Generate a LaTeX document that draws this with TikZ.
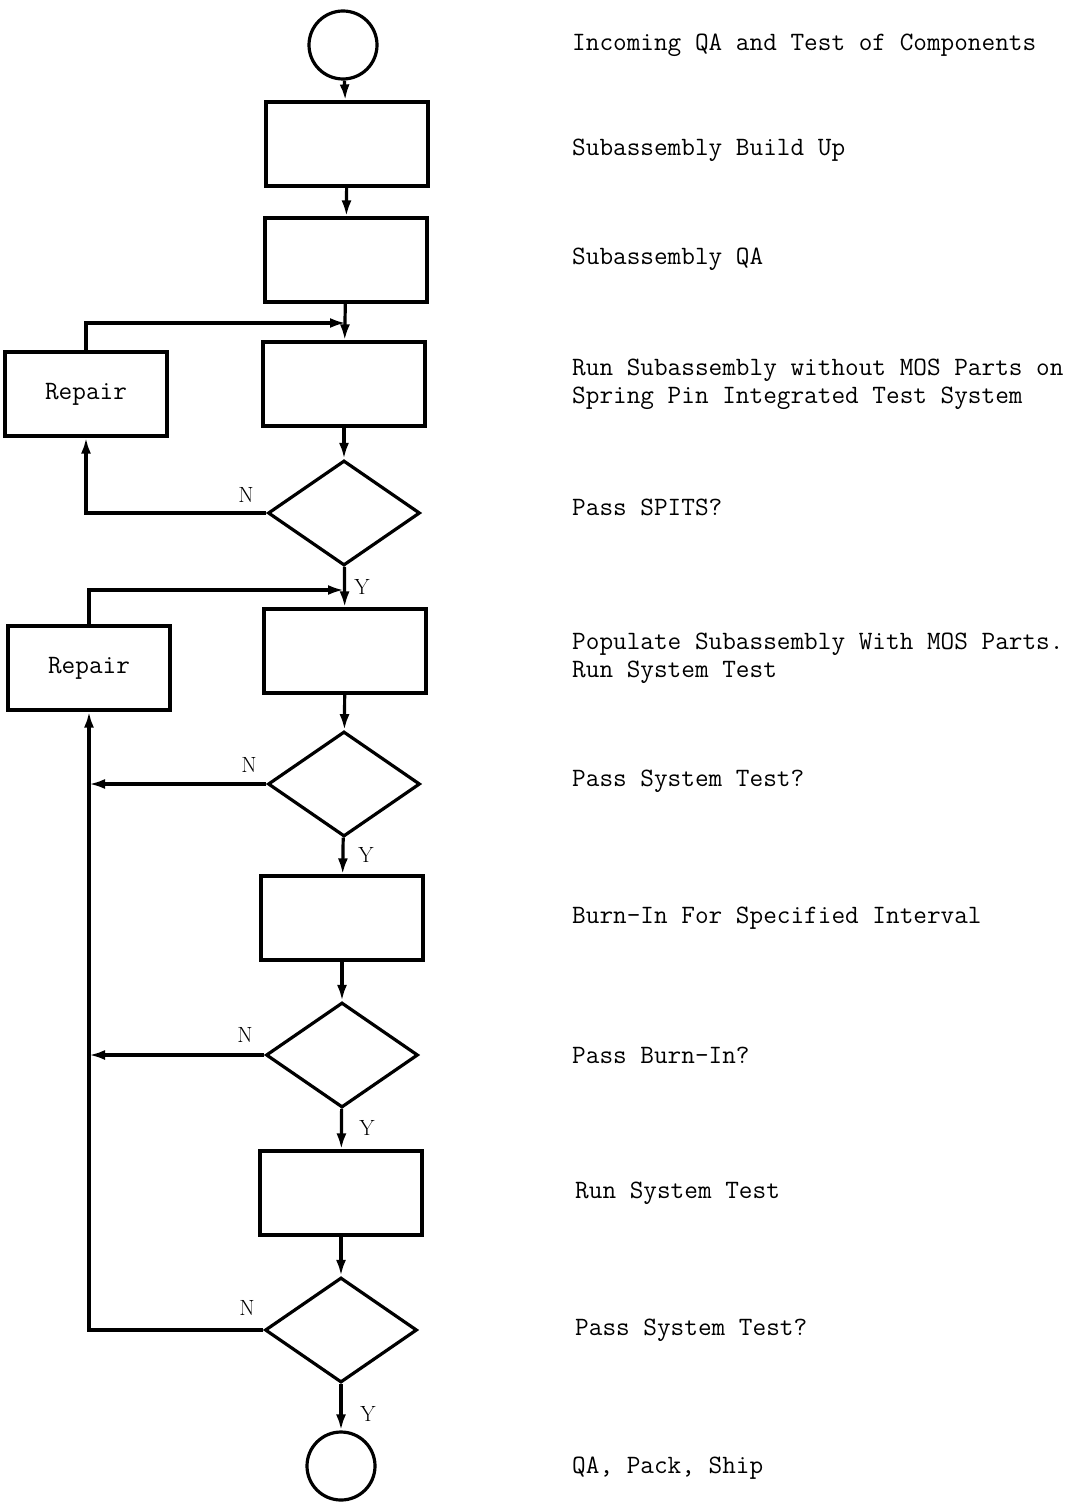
\documentclass[tikz,border=0pt]{standalone}
\usepackage{tikz}
\usetikzlibrary{positioning, shapes.geometric, arrows.meta}

\begin{document}
\begin{tikzpicture}[
        x=1pt, y=-1pt,
        box/.style={draw, rectangle, line width=3.2pt, minimum width=162pt, minimum height=84pt, inner sep=0pt, font=\fontsize{26.5}{28}\selectfont\ttfamily},
        decision/.style={draw, diamond, line width=3.2pt, minimum width=152pt, minimum height=105pt, inner sep=0pt},
        terminal/.style={draw, circle, line width=3.2pt, minimum size=68pt, inner sep=0pt},
        desc/.style={anchor=west, align=left, inner sep=0pt, font=\fontsize{26.5}{28}\selectfont\ttfamily},
        yn/.style={inner sep=0pt, font=\fontsize{22}{22}\selectfont},
        arrow/.style={-{Latex[length=16pt,width=10pt]}, line width=3.2pt}
    ]
        \useasboundingbox (0,0) rectangle (1083,1511);

        % Nodes
        \node[terminal] (start) at (343,45) {};
        \node[box] (build) at (347,144) {};
        \node[box] (subqa) at (346,260) {};
        \node[box] (spits) at (344,384) {};
        \node[decision] (passspits) at (344,513) {};
        \node[box] (populate) at (345,651) {};
        \node[decision] (passsys1) at (344,784) {};
        \node[box] (burnin) at (342,918) {};
        \node[decision] (passburn) at (342,1055) {};
        \node[box] (systest) at (341,1193) {};
        \node[decision] (passsys2) at (341,1330) {};
        \node[terminal] (ship) at (341,1466) {};

        \node[box] (repairA) at (86,394) {Repair};
        \node[box] (repairB) at (89,668) {Repair};

        % Junctions
        \coordinate (joinA) at (346,323);
        \coordinate (joinB) at (344,590);

        % Descriptions
        \node[desc] (d1) at (572,45) {Incoming QA and Test of Components};
        \node[desc] (d2) at (572,150) {Subassembly Build Up};
        \node[desc] (d3) at (572,259) {Subassembly QA};
        \node[desc] (d4) at (572,384) {Run Subassembly without MOS Parts on\\Spring Pin Integrated Test System};
        \node[desc] (d5) at (572,507) {Pass SPITS?};
        \node[desc] (d6) at (572,658) {Populate Subassembly With MOS Parts.\\Run System Test};
        \node[desc] (d7) at (572,781) {Pass System Test?};
        \node[desc] (d8) at (572,918) {Burn-In For Specified Interval};
        \node[desc] (d9) at (572,1055) {Pass Burn-In?};
        \node[desc] (d10) at (575,1193) {Run System Test};
        \node[desc] (d11) at (575,1330) {Pass System Test?};
        \node[desc] (d12) at (572,1468) {QA, Pack, Ship};

        % Main flow
        \draw[arrow] (start) -- (build);
        \draw[arrow] (build) -- (subqa);
        \draw[arrow] (subqa) -- (spits);
        \draw[arrow] (spits) -- (passspits);
        \draw[arrow] (passspits) -- (populate);
        \draw[arrow] (populate) -- (passsys1);
        \draw[arrow] (passsys1) -- (burnin);
        \draw[arrow] (burnin) -- (passburn);
        \draw[arrow] (passburn) -- (systest);
        \draw[arrow] (systest) -- (passsys2);
        \draw[arrow] (passsys2) -- (ship);

        % Repair loops
        \draw[arrow] (passspits.west) -| (repairA.south);
        \draw[arrow] (repairA.north) |- (joinA);
        \draw[arrow] (passsys1.west) -- (passsys1.west -| repairB.south);
        \draw[arrow] (passburn.west) -- (passburn.west -| repairB.south);
        \draw[arrow] (passsys2.west) -| (repairB.south);
        \draw[arrow] (repairB.north) |- (joinB);

        % Y / N labels
        \node[yn] (n1) at (246,495) {N};
        \node[yn] (y1) at (362,587) {Y};
        \node[yn] (n2) at (249,765) {N};
        \node[yn] (y2) at (366,855) {Y};
        \node[yn] (n3) at (245,1035) {N};
        \node[yn] (y3) at (367,1128) {Y};
        \node[yn] (n4) at (247,1308) {N};
        \node[yn] (y4) at (368,1414) {Y};
    \end{tikzpicture}
\end{document}
